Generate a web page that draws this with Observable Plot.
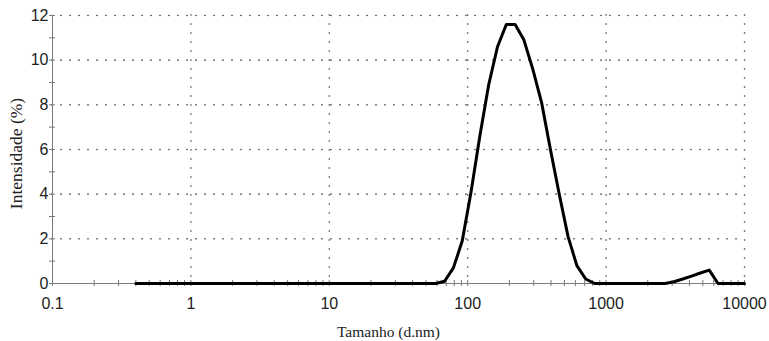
<!DOCTYPE html>
<html><head><meta charset="utf-8">
<script src="https://cdn.jsdelivr.net/npm/d3@7"></script>
<script src="https://cdn.jsdelivr.net/npm/@observablehq/plot@0.6"></script>
<style>body{margin:0;background:#fff}</style>
</head><body><div id="chart"></div>
<script>
// Size classes (d.nm)
const sizes = [0.4, 0.4632, 0.5365, 0.6213, 0.7195, 0.8332, 0.9649, 1.117, 1.294, 1.499,
  1.736, 2.010, 2.328, 2.696, 3.122, 3.615, 4.187, 4.849, 5.615, 6.503,
  7.531, 8.721, 10.10, 11.70, 13.54, 15.69, 18.17, 21.04, 24.36, 28.21,
  32.67, 37.84, 43.82, 50.75, 58.77, 68.06, 78.82, 91.28, 105.7, 122.4,
  141.8, 164.2, 190.1, 220.2, 255.0, 295.3, 342.0, 396.1, 458.7, 531.2,
  615.1, 712.4, 825.0, 955.4, 1106, 1281, 1484, 1718, 1990, 2305,
  2669, 3091, 3580, 4145, 4801, 5560, 6439, 7456, 8635, 10000];
// Intensity (%)
const intensity = [0, 0, 0, 0, 0, 0, 0, 0, 0, 0,
  0, 0, 0, 0, 0, 0, 0, 0, 0, 0,
  0, 0, 0, 0, 0, 0, 0, 0, 0, 0,
  0, 0, 0, 0, 0, 0.1, 0.7, 1.9, 4.1, 6.6,
  8.9, 10.6, 11.6, 11.6, 10.9, 9.6, 8.1, 6.0, 4.0, 2.1,
  0.8, 0.2, 0, 0, 0, 0, 0, 0, 0, 0,
  0, 0.08, 0.2, 0.33, 0.47, 0.6, 0, 0, 0, 0];
const xTicks = [0.1, 1, 10, 100, 1000, 10000];
const yTicks = [0, 2, 4, 6, 8, 10, 12];
const xLabel = "Tamanho (d.nm)";
const yLabel = "Intensidade (%)";

const data = sizes.map((s, i) => ({size: s, value: intensity[i]}));
const xAllTicks = [];
xTicks.forEach((d, i) => {
  if (i < xTicks.length - 1) for (let k = 1; k < 10; k++) xAllTicks.push(d * k);
  else xAllTicks.push(d);
});
const yAllTicks = d3.range(yTicks[0], yTicks[yTicks.length - 1] + 1, 1);

const gridStyle = {stroke: "#333", strokeWidth: 1.6, strokeDasharray: "0,9", strokeLinecap: "round"};
const axisColor = "#7a7a7a";

const chart = Plot.plot({
  width: 769, height: 341,
  marginLeft: 52, marginRight: 25, marginTop: 15, marginBottom: 58,
  style: {fontFamily: "'Liberation Sans', Arial, sans-serif", background: "#fff"},
  x: {type: "log", domain: [0.1, 10000]},
  y: {domain: [0, 12]},
  marks: [
    Plot.ruleY(yTicks.filter(d => d > 0), gridStyle),
    Plot.ruleX(xTicks.filter(d => d > 0.1), gridStyle),
    Plot.ruleX([xTicks[0]], {stroke: axisColor, strokeWidth: 1}),
    Plot.ruleY([yTicks[0]], {stroke: axisColor, strokeWidth: 1}),
    Plot.ruleX(xAllTicks, {x: d => d, y1: 0, y2: 0, insetTop: -3, insetBottom: -3, stroke: axisColor}),
    Plot.ruleY(yAllTicks, {y: d => d, x1: 0.1, x2: 0.1, insetLeft: -3, insetRight: -3, stroke: axisColor}),
    Plot.axisX(xTicks, {tickSize: 0, tickPadding: 14, fontSize: 16, tickFormat: d => String(d), label: null, fill: "#222"}),
    Plot.axisY(yTicks, {tickSize: 0, tickPadding: 4, fontSize: 16, label: null, fill: "#222"}),
    Plot.line(data, {x: "size", y: "value", stroke: "#000", strokeWidth: 3, strokeLinejoin: "round"}),
    Plot.text([xLabel], {frameAnchor: "bottom", textAnchor: "middle", lineAnchor: "bottom", dy: 53, dx: -10,
      fontFamily: "'Liberation Serif', 'Times New Roman', serif", fontSize: 15.5, fill: "#222"}),
    Plot.text([yLabel], {frameAnchor: "left", textAnchor: "middle", rotate: -90, lineAnchor: "bottom", dx: -31, dy: 4,
      fontFamily: "'Liberation Serif', 'Times New Roman', serif", fontSize: 17.5, fill: "#222"})
  ]
});
document.getElementById("chart").appendChild(chart);
</script>
</body></html>
